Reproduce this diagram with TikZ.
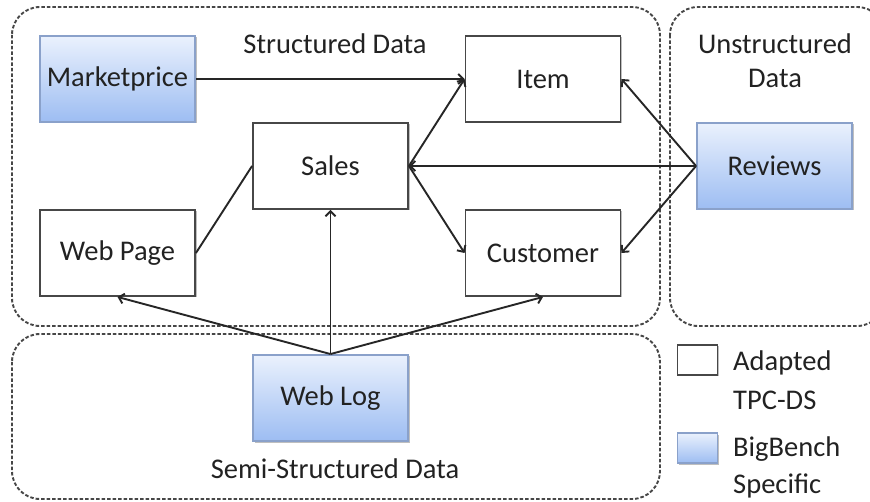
\documentclass[tikz,border=0pt]{standalone}
\usepackage{fontspec}
\setmainfont{Carlito}
\usetikzlibrary{arrows.meta,shadows}
\definecolor{bluetop}{HTML}{EAF1FD}
\definecolor{bluebot}{HTML}{9DBDF2}
\definecolor{blueedge}{HTML}{8AA1CA}
\definecolor{txt}{HTML}{222222}
\begin{document}
\begin{tikzpicture}[x=1pt,y=-1pt,
  lbl/.style={font=\fontsize{28.5}{32}\selectfont, text=txt, inner sep=0pt},
  tbl/.style={draw=black!72, line width=1.9pt, fill=white, minimum width=155pt, minimum height=86pt, inner sep=0pt,
    font=\fontsize{28.5}{32}\selectfont, text=txt,
    drop shadow={shadow xshift=1.5pt, shadow yshift=-1.5pt, opacity=0.25, fill=black}},
  bluetbl/.style={tbl, draw=blueedge, top color=bluetop, bottom color=bluebot},
  legbox/.style={draw=black!72, line width=1.9pt, fill=white,
    drop shadow={shadow xshift=1.5pt, shadow yshift=-1.5pt, opacity=0.25, fill=black}},
  legblue/.style={legbox, draw=blueedge, top color=bluetop, bottom color=bluebot},
  region/.style={draw=black!72, dash pattern=on 3.5pt off 2pt, line width=1.9pt, rounded corners=28pt},
  arr/.style={-{Straight Barb[length=5pt,width=10pt]}, line width=1.9pt, draw=black!85},
  plain/.style={line width=1.9pt, draw=black!85}]
\useasboundingbox (0,0) rectangle (870,502);
\clip (0,0) rectangle (870,502);
\fill[white] (0,0) rectangle (870,502);
% regions
\draw[region] (12,7) rectangle (660,326);
\draw[region] (670,7) rectangle (885,326);
\draw[region] (12,334) rectangle (660,499);
% region labels
\node[lbl] (tstruct) at (335,44) {Structured Data};
\node[lbl] (tunst1) at (775,44) {Unstructured};
\node[lbl] (tunst2) at (775,78) {Data};
\node[lbl] (tsemi) at (335,469) {Semi-Structured Data};
% tables
\node[bluetbl] (mp) at (117.5,79) {Marketprice};
\node[tbl] (item) at (543,79) {Item};
\node[tbl] (sales) at (330.5,166) {Sales};
\node[tbl] (wp) at (117.5,253) {Web Page};
\node[tbl] (cust) at (543,253) {Customer};
\node[bluetbl] (rev) at (774.5,166) {Reviews};
\node[bluetbl] (wl) at (330.5,398) {Web Log};
% legend
\node[legbox, minimum width=40pt, minimum height=30pt, inner sep=0pt] (lega) at (697.5,360) {};
\node[legblue, minimum width=40pt, minimum height=30pt, inner sep=0pt] (legb) at (697.5,448) {};
\node[lbl, anchor=west] (la1) at (733,363) {Adapted};
\node[lbl, anchor=west] (la2) at (733,400) {TPC-DS};
\node[lbl, anchor=west] (lb1) at (733,449) {BigBench};
\node[lbl, anchor=west] (lb2) at (733,486) {Specific};
% connectors
\draw[arr] (mp.east) -- (item.west);
\draw[arr] (sales.east) -- (item.west);
\draw[arr] (sales.east) -- (cust.west);
\draw[arr] (rev.west) -- (sales.east);
\draw[arr] (rev.west) -- (item.east);
\draw[arr] (rev.west) -- (cust.east);
\draw[plain] (wp.east) -- (sales.west);
\draw[arr] (wl.north) -- (wp.south);
\draw[arr] (wl.north) -- (sales.south);
\draw[arr] (wl.north) -- (cust.south);
\end{tikzpicture}
\end{document}
